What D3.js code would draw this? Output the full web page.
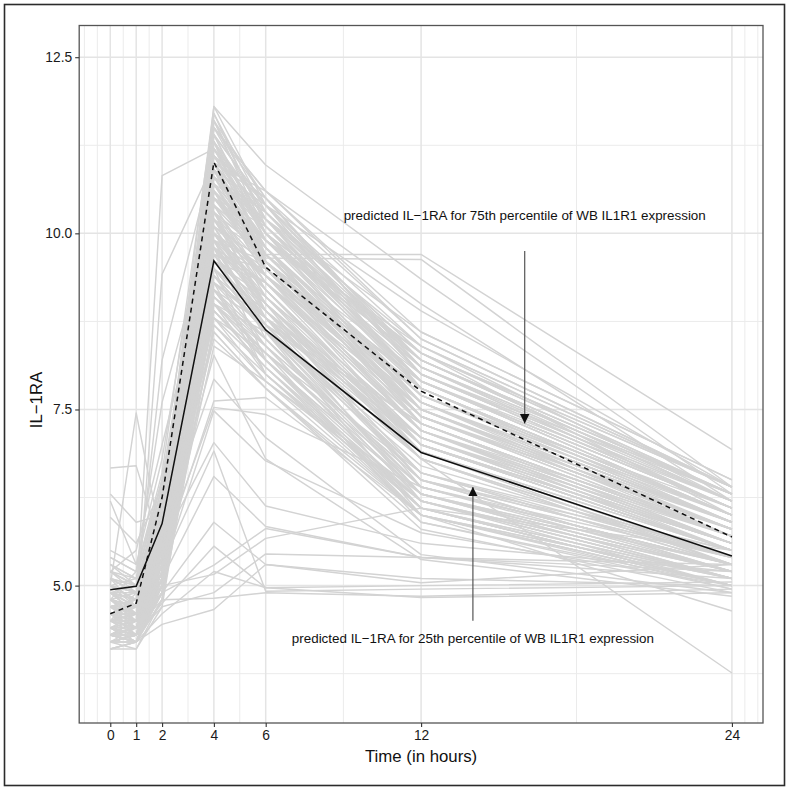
<!DOCTYPE html>
<html><head><meta charset="utf-8">
<script src="https://cdn.jsdelivr.net/npm/d3@7"></script>
<style>
body{margin:0;background:#fff}
svg{display:block}
text{font-family:"Liberation Sans",Arial,Helvetica,sans-serif}
</style>
</head><body>
<svg id="c" width="789" height="790"></svg>
<script>
// ---------- data ----------
const timePoints = [0, 1, 2, 4, 6, 12, 24];
const xTickLabels = ["0", "1", "2", "4", "6", "12", "24"];
const xMinorBreaks = [-1, -0.5, 0.5, 1.5, 3, 5, 9, 18, 24.5, 25];
const yTicks = [5.0, 7.5, 10.0, 12.5];
const yTickLabels = ["5.0", "7.5", "10.0", "12.5"];
const yMinorBreaks = [3.75, 6.25, 8.75, 11.25];

// predicted IL-1RA curves (25th and 75th percentile of WB IL1R1 expression)
const pred25 = [4.94, 4.99, 5.88, 9.61, 8.63, 6.89, 5.42];
const pred75 = [4.60, 4.75, 6.25, 11.01, 9.52, 7.76, 5.69];

// individual subjects: values at 0,1,2,4,6,12,24 h
const subjects = [
  [4.5,4.4,5.6,11.8,10.4,8.2,6.2],[4.8,4.6,6.1,11.6,10.2,8.4,6.4],[4.3,4.3,5.2,11.5,10.6,8.6,6.5],
  [5.1,4.9,6.3,11.4,10.0,8.0,6.1],[4.6,4.5,5.8,11.3,10.3,8.3,6.3],[4.2,4.2,5.0,11.2,9.9,7.9,6.0],
  [4.9,4.8,6.0,11.1,10.1,8.1,6.2],[4.4,4.4,5.5,11.0,9.8,7.8,5.9],[5.3,5.0,6.4,11.0,10.5,8.5,6.4],
  [4.7,4.6,5.9,10.9,9.7,7.7,6.0],[4.1,4.2,4.9,10.9,10.0,7.6,5.8],[5.0,4.7,6.2,10.8,9.6,7.9,6.1],
  [4.5,4.3,5.3,10.8,9.9,8.2,6.3],[4.8,4.9,5.7,10.7,9.5,7.5,5.7],[4.3,4.5,5.1,10.7,10.2,7.8,6.0],
  [5.2,5.1,6.5,10.6,9.8,7.4,5.8],[4.6,4.4,5.4,10.6,9.4,7.6,5.9],[4.9,4.7,6.0,10.5,9.7,8.0,6.2],
  [4.2,4.3,5.0,10.5,9.6,7.3,5.6],[4.7,4.8,5.6,10.5,10.1,7.9,6.1],[5.4,5.2,6.6,11.7,10.3,8.3,6.3],
  [4.4,4.2,5.2,11.4,9.9,7.7,5.9],[4.6,4.6,5.7,11.2,10.4,8.4,6.4],[5.0,4.9,6.1,11.0,10.0,7.5,5.8],
  [4.3,4.4,5.3,10.9,9.5,7.8,6.0],[4.8,4.5,5.9,10.8,10.2,8.1,6.1],[4.5,4.7,5.5,10.7,9.7,7.6,5.7],
  [5.1,5.0,6.3,10.6,9.9,8.2,6.3],[4.2,4.3,5.0,11.3,10.1,7.9,6.0],[4.7,4.6,5.8,11.1,9.8,7.7,5.9],
  [4.9,4.8,6.1,11.5,10.5,8.0,6.2],[4.4,4.5,5.4,11.6,10.0,8.3,6.4],[5.2,4.9,6.2,10.9,9.6,7.4,5.7],
  [4.6,4.3,5.6,10.8,10.3,8.0,6.1],[4.3,4.2,5.1,10.6,9.4,7.5,5.8],[4.8,4.7,5.9,11.0,10.1,7.8,6.0],
  [5.5,5.3,6.8,11.2,10.2,8.2,6.2],[4.5,4.6,5.5,10.7,9.6,7.9,6.1],[4.9,5.0,6.0,11.4,10.4,8.1,6.3],
  [4.1,4.1,4.8,10.5,9.8,7.6,5.9],
  [4.6,4.5,5.7,11.3,10.0,8.3,6.0],[4.4,4.6,5.4,11.1,10.3,8.0,6.3],[5.0,4.8,6.2,10.9,9.9,8.4,6.2],
  [4.7,4.4,5.6,11.6,10.5,8.1,6.1],[4.3,4.3,5.2,10.8,9.8,7.7,6.0],[4.9,4.9,6.0,11.2,10.2,8.6,6.5],
  [4.5,4.4,5.5,10.6,9.5,7.9,6.2],[5.1,4.7,6.3,11.4,10.4,7.8,5.9],[4.2,4.3,5.0,10.7,9.9,8.1,6.3],
  [4.8,4.6,5.8,11.0,10.6,8.5,6.4],[4.6,4.7,5.6,10.4,9.6,7.7,6.1],[4.4,4.2,5.3,11.7,10.1,8.2,6.2],
  [5.3,5.1,6.5,10.9,9.7,7.5,5.8],[4.5,4.5,5.5,11.5,10.2,7.9,6.0],[4.7,4.8,5.9,10.5,9.9,8.3,6.4],
  [4.3,4.4,5.1,11.3,9.6,7.6,5.9],[4.9,4.6,6.1,10.8,10.3,8.2,6.3],[4.6,4.3,5.4,10.2,9.4,7.8,6.0],
  [5.0,4.9,6.0,11.1,10.5,8.0,6.1],[4.2,4.2,4.9,10.6,9.8,7.4,5.7],[4.8,4.7,5.7,10.3,9.7,7.6,5.9],
  [4.5,4.6,5.4,9.9,9.4,7.5,5.8],[4.4,4.5,5.3,10.1,9.6,7.3,5.7],[4.7,4.5,5.6,9.7,9.3,7.4,5.9],
  [5.2,5.0,6.2,10.5,9.5,7.2,5.6],[4.3,4.3,5.2,10.0,9.0,6.9,5.5],[4.6,4.6,5.5,9.6,8.8,7.0,5.6],
  [4.6,4.5,5.5,10.4,9.3,7.2,5.7],[4.3,4.4,5.1,10.3,9.5,7.4,5.8],[5.0,4.8,6.0,10.2,9.0,7.0,5.5],
  [4.7,4.6,5.6,10.1,9.4,7.3,5.6],[4.4,4.3,5.2,10.0,9.2,7.1,5.7],[5.2,5.0,6.2,10.4,9.6,7.5,5.9],
  [4.5,4.6,5.4,9.9,8.9,6.9,5.4],[4.8,4.7,5.8,9.8,9.1,7.2,5.6],[4.2,4.2,4.9,9.8,9.3,7.0,5.5],
  [4.9,4.8,5.9,9.7,8.8,6.8,5.3],[4.6,4.4,5.4,9.6,9.0,7.1,5.6],[5.1,4.9,6.1,9.6,8.7,7.3,5.7],
  [4.3,4.5,5.2,9.5,8.9,6.9,5.4],[4.7,4.7,5.7,10.2,9.7,7.6,5.9],[4.4,4.3,5.3,10.3,9.1,7.2,5.6],
  [5.0,5.1,6.0,10.1,8.8,6.8,5.4],[4.5,4.4,5.5,10.0,9.5,7.4,5.8],[4.8,4.6,5.9,9.9,9.2,7.0,5.5],
  [4.2,4.3,5.0,9.7,8.6,6.9,5.3],[4.6,4.7,5.6,10.4,9.8,7.3,5.7],[5.3,5.1,6.4,10.2,9.3,7.5,5.9],
  [4.4,4.5,5.3,9.8,8.7,7.1,5.6],[4.9,4.7,5.8,10.0,9.4,7.2,5.5],[4.3,4.2,5.1,9.6,9.1,6.8,5.4],
  [4.7,4.8,5.7,10.3,8.9,7.0,5.6],[5.1,5.0,6.3,9.9,9.6,7.4,5.8],[4.5,4.3,5.4,10.1,9.0,7.1,5.5],
  [4.8,4.9,5.8,9.5,8.8,7.3,5.7],[4.2,4.4,4.9,10.4,9.2,6.9,5.4],[4.6,4.6,5.5,9.7,9.5,7.2,5.8],
  [5.4,5.2,6.5,10.3,9.7,7.6,6.0],[4.4,4.4,5.2,9.9,8.6,6.8,5.3],[4.9,4.6,6.0,10.2,9.4,7.0,5.6],
  [4.3,4.3,5.1,9.6,9.3,7.3,5.7],[4.7,4.5,5.7,10.0,8.9,7.1,5.5],
  [4.4,4.4,5.2,9.5,8.6,6.4,5.3],[4.6,4.5,5.4,9.7,8.9,6.5,5.4],[4.8,4.7,5.6,9.9,8.5,6.3,5.2],
  [4.3,4.2,5.0,9.0,8.3,6.6,5.5],[4.5,4.6,5.3,9.4,8.8,6.2,5.1],[5.0,4.9,5.9,9.8,9.0,6.4,5.4],
  [4.2,4.3,4.9,8.9,8.1,6.0,5.1],[4.7,4.5,5.5,9.6,8.7,6.3,5.3],[4.4,4.3,5.1,9.1,8.4,6.1,5.0],
  [4.9,4.8,5.8,10.0,8.9,6.6,5.4],[4.6,4.4,5.3,9.2,8.5,6.2,5.2],[4.3,4.5,5.1,9.5,8.0,6.0,5.0],
  [4.8,4.6,5.7,9.3,8.8,6.5,5.5],[4.5,4.4,5.4,8.8,8.3,6.4,5.3],[4.1,4.2,4.8,9.0,8.6,6.3,5.2],
  [4.7,4.7,5.6,9.8,8.2,6.1,5.1],
  [4.5,4.4,5.3,9.4,8.4,6.5,5.2],[4.2,4.3,4.9,9.2,8.2,6.3,5.1],[4.8,4.6,5.6,9.0,8.0,6.2,5.0],
  [4.4,4.5,5.2,9.3,8.5,6.4,5.3],[5.0,4.8,5.9,8.9,8.1,6.1,5.0],[4.6,4.4,5.4,8.8,7.9,6.0,4.95],
  [4.3,4.2,5.0,9.1,8.3,6.3,5.2],[4.9,4.7,5.7,9.4,8.6,6.6,5.3],[4.1,4.2,4.8,8.7,7.9,6.2,5.1],
  [4.7,4.6,5.5,9.0,8.4,6.1,5.0],[4.4,4.3,5.1,8.6,7.8,6.0,5.0],[5.2,5.0,6.0,9.2,8.7,6.5,5.2],
  [4.5,4.6,5.3,8.9,8.2,6.3,5.1],[4.3,4.4,5.0,9.3,8.0,6.1,5.0],[4.8,4.5,5.6,8.5,7.8,5.9,4.95],
  [4.2,4.1,4.7,9.1,8.5,6.4,5.2],[4.6,4.7,5.4,8.8,8.1,6.2,5.1],[5.1,4.9,5.8,9.4,8.6,6.0,5.0],
  [4.4,4.2,5.1,8.4,7.9,6.3,5.3],[4.7,4.8,5.5,9.0,8.3,5.9,5.0],[4.2,4.3,4.9,8.7,8.0,6.1,5.1],
  [4.5,4.5,5.2,9.2,8.4,6.5,5.4],[4.9,4.6,5.7,8.6,7.8,5.8,4.9],[4.3,4.4,5.0,9.0,8.2,6.2,5.2],
  [4.6,4.5,5.4,9.3,8.7,6.6,5.3],
  [5.0,7.45,5.6,10.2,9.2,7.1,5.6],[6.67,6.7,5.5,9.8,8.8,6.9,5.5],[6.3,5.9,6.0,10.6,9.6,7.4,5.8],
  [6.2,5.3,5.7,10.0,9.1,7.0,5.6],[5.97,5.6,6.4,9.5,8.6,6.7,5.4],[4.9,4.8,10.82,11.2,10.0,7.8,6.0],
  [4.6,4.5,9.42,11.0,9.6,7.6,5.9],[4.3,4.2,4.45,4.66,5.3,5.1,5.0],[4.5,4.4,4.8,4.82,4.9,4.85,4.95],
  [4.4,4.3,4.7,4.9,5.45,5.4,5.3],[4.7,4.6,5.0,5.16,5.67,6.1,5.5],[4.5,4.5,4.9,5.29,5.81,5.4,5.2],
  [4.2,4.3,4.75,5.56,4.97,5.0,5.05],[4.6,4.5,5.3,6.91,4.92,4.95,5.0],[4.3,4.4,5.1,6.55,5.84,5.4,5.1],
  [4.8,4.7,5.6,7.03,6.13,5.6,5.2],[4.4,4.3,5.2,7.48,6.77,5.75,5.0],[4.9,4.8,5.5,7.53,7.43,6.4,5.3],
  [4.5,4.6,5.4,7.62,7.67,6.0,5.1],[4.6,4.4,5.8,7.93,7.1,5.44,4.9],[4.7,4.6,5.6,8.27,6.8,5.37,4.85],
  [4.8,4.7,6.0,11.3,9.7,9.7,6.93],[4.5,4.5,5.7,11.0,9.65,9.63,6.4],[5.1,4.9,6.2,11.8,10.97,9.35,6.3],
  [4.4,4.3,5.5,10.2,9.0,6.8,3.76],[4.6,4.5,5.3,9.2,8.2,6.0,4.64],[4.2,4.2,4.6,5.2,4.97,4.83,4.9],
  [4.3,4.4,4.9,5.9,5.3,5.04,5.3],[4.7,4.6,5.8,10.9,10.4,8.9,6.4],[4.4,4.3,5.4,11.5,10.6,9.0,6.2],
  [4.8,5.2,7.6,10.3,9.3,7.2,5.7],[5.2,5.5,7.0,9.9,9.0,7.0,5.5],[4.5,4.9,8.2,11.1,10.0,7.9,6.1]
];

const annotationTexts = [
  "predicted IL\u22121RA for 75th percentile of WB IL1R1 expression",
  "predicted IL\u22121RA for 25th percentile of WB IL1R1 expression"
];
const annotationX = [16, 14];
const annotationY = [10.25, 4.25];
const arrowX = [16, 14];
const arrowFrom = [9.75, 4.5];
const arrowTo = [7.3, 6.4];

// ---------- layout ----------
const svg = d3.select("#c");
const P = {left: 79.2, right: 763, top: 25.5, bottom: 723};
const x = d3.scaleLinear().domain([-1.2, 25.2]).range([P.left, P.right]);
const y = d3.scaleLinear().domain([3.05, 12.95]).range([P.bottom, P.top]);

svg.append("rect").attr("width", 789).attr("height", 790).attr("fill", "#fff");

// outer figure frame
svg.append("rect").attr("x", 4.5).attr("y", 4.5).attr("width", 780).attr("height", 781)
  .attr("fill", "none").attr("stroke", "#2b2b2b").attr("stroke-width", 1.6);

const plot = svg.append("g");
plot.append("defs").append("clipPath").attr("id", "clip")
  .append("rect").attr("x", P.left).attr("y", P.top)
  .attr("width", P.right - P.left).attr("height", P.bottom - P.top);

// grid
const grid = plot.append("g");
grid.selectAll("line.xm").data(xMinorBreaks).join("line")
  .attr("x1", d => x(d)).attr("x2", d => x(d)).attr("y1", P.top).attr("y2", P.bottom)
  .attr("stroke", "#ebebeb").attr("stroke-width", 1.0);
grid.selectAll("line.ym").data(yMinorBreaks).join("line")
  .attr("y1", d => y(d)).attr("y2", d => y(d)).attr("x1", P.left).attr("x2", P.right)
  .attr("stroke", "#ebebeb").attr("stroke-width", 1.0);
grid.selectAll("line.xM").data(timePoints).join("line")
  .attr("x1", d => x(d)).attr("x2", d => x(d)).attr("y1", P.top).attr("y2", P.bottom)
  .attr("stroke", "#e4e4e4").attr("stroke-width", 1.5);
grid.selectAll("line.yM").data(yTicks).join("line")
  .attr("y1", d => y(d)).attr("y2", d => y(d)).attr("x1", P.left).attr("x2", P.right)
  .attr("stroke", "#e4e4e4").attr("stroke-width", 1.5);

const line = d3.line().x((d, i) => x(timePoints[i])).y(d => y(d));

const lines = plot.append("g").attr("clip-path", "url(#clip)");
lines.selectAll("path.subj").data(subjects).join("path")
  .attr("d", line).attr("fill", "none").attr("stroke", "#d3d3d3").attr("stroke-width", 1.45)
  .attr("stroke-linejoin", "round");

lines.append("path").datum(pred75).attr("d", line).attr("fill", "none")
  .attr("stroke", "#111").attr("stroke-width", 1.5).attr("stroke-dasharray", "5,4");
lines.append("path").datum(pred25).attr("d", line).attr("fill", "none")
  .attr("stroke", "#111").attr("stroke-width", 1.5);

// annotations: arrows
const defs = svg.append("defs");
defs.append("marker").attr("id", "ah").attr("viewBox", "0 0 10 10")
  .attr("refX", 10).attr("refY", 5).attr("markerUnits", "userSpaceOnUse")
  .attr("markerWidth", 9.5).attr("markerHeight", 11).attr("orient", "auto")
  .append("path").attr("d", "M0,0 L10,5 L0,10 Z").attr("fill", "#111");

const ann = plot.append("g");
ann.selectAll("line.arrow").data(arrowX).join("line")
  .attr("x1", d => x(d)).attr("x2", d => x(d))
  .attr("y1", (d, i) => y(arrowFrom[i])).attr("y2", (d, i) => y(arrowTo[i]))
  .attr("stroke", "#555").attr("stroke-width", 1.2).attr("marker-end", "url(#ah)");

ann.selectAll("text.lbl").data(annotationTexts).join("text")
  .attr("x", (d, i) => x(annotationX[i])).attr("y", (d, i) => y(annotationY[i]))
  .attr("text-anchor", "middle").attr("dominant-baseline", "central")
  .attr("font-size", 13.4).attr("fill", "#111").text(d => d);

// panel border
plot.append("rect").attr("x", P.left).attr("y", P.top)
  .attr("width", P.right - P.left).attr("height", P.bottom - P.top)
  .attr("fill", "none").attr("stroke", "#555").attr("stroke-width", 1.3);

// axes
const xAxis = d3.axisBottom(x).tickValues(timePoints).tickFormat((d, i) => xTickLabels[i])
  .tickSizeInner(4).tickSizeOuter(0).tickPadding(3);
const gx = svg.append("g").attr("transform", `translate(0,${P.bottom})`).call(xAxis);
gx.select(".domain").remove();
gx.selectAll(".tick line").attr("stroke", "#333").attr("stroke-width", 1.1);
gx.selectAll(".tick text").attr("font-size", 13.8).attr("fill", "#1a1a1a")
  .attr("font-family", "Liberation Sans, Arial, sans-serif");

const yAxis = d3.axisLeft(y).tickValues(yTicks).tickFormat((d, i) => yTickLabels[i])
  .tickSizeInner(4).tickSizeOuter(0).tickPadding(3);
const gy = svg.append("g").attr("transform", `translate(${P.left},0)`).call(yAxis);
gy.select(".domain").remove();
gy.selectAll(".tick line").attr("stroke", "#333").attr("stroke-width", 1.1);
gy.selectAll(".tick text").attr("font-size", 13.8).attr("fill", "#1a1a1a")
  .attr("font-family", "Liberation Sans, Arial, sans-serif");

// axis titles
svg.append("text").attr("x", (P.left + P.right) / 2).attr("y", 762)
  .attr("text-anchor", "middle").attr("font-size", 16.8).attr("fill", "#111")
  .text("Time (in hours)");
svg.append("text").attr("transform", `translate(42,400) rotate(-90)`)
  .attr("text-anchor", "middle").attr("font-size", 16.8).attr("fill", "#111")
  .text("IL\u22121RA");
</script>
</body></html>
